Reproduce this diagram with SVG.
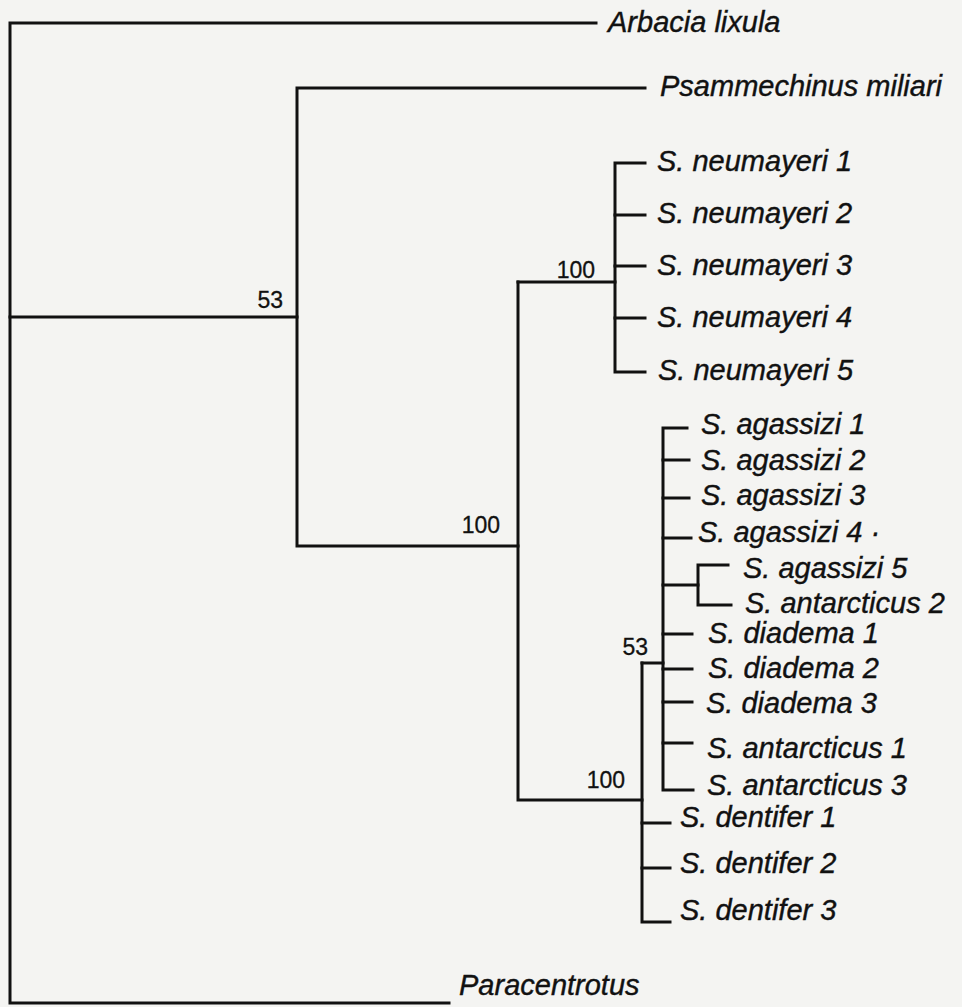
<svg xmlns="http://www.w3.org/2000/svg" width="962" height="1007" viewBox="0 0 962 1007">
<style>
.br{fill:none;stroke:#111;stroke-width:3;stroke-linecap:square;stroke-linejoin:miter}
.leaf{font-family:"Liberation Sans",Arial,sans-serif;font-style:italic;font-size:29px;fill:#111;stroke:#111;stroke-width:0.4}
.sup{font-family:"Liberation Sans",Arial,sans-serif;font-size:23px;fill:#111;stroke:#111;stroke-width:0.3}
</style>
<rect width="962" height="1007" fill="#f4f4f2"/>
<g id="connectors">
<path class="br" d="M596,23 H10 V1003 H449"/>
<path class="br" d="M10,317 H297"/>
<path class="br" d="M645,88 H297 V546 H518"/>
<path class="br" d="M518,282 V800 H642"/>
<path class="br" d="M518,282 H615"/>
<path class="br" d="M645,163 H615 V372 H645"/>
<path class="br" d="M615,215 H645 M615,266 H645 M615,318 H645"/>
<path class="br" d="M642,663 V922 H670"/>
<path class="br" d="M642,823 H670 M642,868 H670"/>
<path class="br" d="M642,663 H663"/>
<path class="br" d="M687,428 H663 V790 H693"/>
<path class="br" d="M663,460 H689 M663,498 H689 M663,538 H691 M663,634 H692 M663,669 H692 M663,702 H692 M663,743 H692"/>
<path class="br" d="M663,585 H698"/>
<path class="br" d="M728,565 H698 V605 H731"/>
</g>
<g id="support">
<text class="sup" x="283" y="308" text-anchor="end">53</text>
<text class="sup" x="595" y="278" text-anchor="end">100</text>
<text class="sup" x="500" y="533" text-anchor="end">100</text>
<text class="sup" x="648" y="655" text-anchor="end">53</text>
<text class="sup" x="625" y="788" text-anchor="end">100</text>
</g>
<g id="arbacia"><text class="leaf" x="608" y="32">Arbacia lixula</text></g>
<g id="psammechinus"><text class="leaf" x="660" y="96">Psammechinus miliari</text></g>
<g id="neumayeri1"><text class="leaf" x="657" y="171">S. neumayeri 1</text></g>
<g id="neumayeri2"><text class="leaf" x="657" y="223">S. neumayeri 2</text></g>
<g id="neumayeri3"><text class="leaf" x="657" y="275">S. neumayeri 3</text></g>
<g id="neumayeri4"><text class="leaf" x="657" y="327">S. neumayeri 4</text></g>
<g id="neumayeri5"><text class="leaf" x="658" y="380">S. neumayeri 5</text></g>
<g id="agassizi1"><text class="leaf" x="701" y="434">S. agassizi 1</text></g>
<g id="agassizi2"><text class="leaf" x="701" y="470">S. agassizi 2</text></g>
<g id="agassizi3"><text class="leaf" x="701" y="505">S. agassizi 3</text></g>
<g id="agassizi4"><text class="leaf" x="698" y="542">S. agassizi 4 ·</text></g>
<g id="agassizi5"><text class="leaf" x="743" y="578">S. agassizi 5</text></g>
<g id="antarcticus2"><text class="leaf" x="745" y="613">S. antarcticus 2</text></g>
<g id="diadema1"><text class="leaf" x="708" y="643">S. diadema 1</text></g>
<g id="diadema2"><text class="leaf" x="708" y="678">S. diadema 2</text></g>
<g id="diadema3"><text class="leaf" x="706" y="713">S. diadema 3</text></g>
<g id="antarcticus1"><text class="leaf" x="707" y="758">S. antarcticus 1</text></g>
<g id="antarcticus3"><text class="leaf" x="707" y="795">S. antarcticus 3</text></g>
<g id="dentifer1"><text class="leaf" x="680" y="827">S. dentifer 1</text></g>
<g id="dentifer2"><text class="leaf" x="680" y="873">S. dentifer 2</text></g>
<g id="dentifer3"><text class="leaf" x="680" y="920">S. dentifer 3</text></g>
<g id="paracentrotus"><text class="leaf" x="459" y="995">Paracentrotus</text></g>
</svg>
